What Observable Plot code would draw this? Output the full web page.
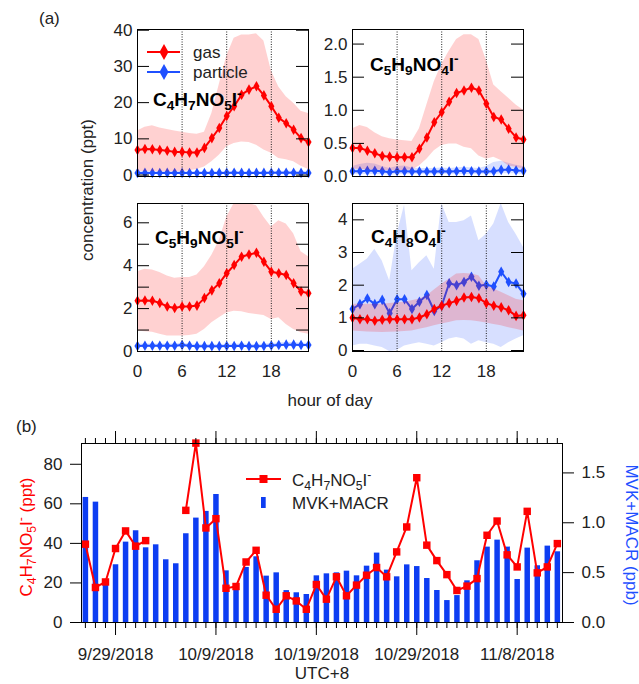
<!DOCTYPE html>
<html><head><meta charset="utf-8">
<script src="https://cdn.jsdelivr.net/npm/d3@7"></script>
<script src="https://cdn.jsdelivr.net/npm/@observablehq/plot@0.6"></script>
<style>
body{margin:0;background:#fff;}
#root{position:relative;width:639px;height:684px;overflow:hidden;font-family:"Liberation Sans",Arial,sans-serif;color:#222;background:#fff;}
#root sub{font-size:72%;vertical-align:baseline;position:relative;top:0.3em;line-height:0;}
#root sup{font-size:72%;vertical-align:baseline;position:relative;top:-0.55em;line-height:0;}
</style></head><body><div id="root"></div>
<script>
// ---------- panel (a) data: diurnal profiles ----------
const hours = [0,1,2,3,4,5,6,7,8,9,10,11,12,13,14,15,16,17,18,19,20,21,22,23];
// C4H7NO5I-
const gas1 = [6.9,7.2,7.1,6.9,6.7,6.4,6.4,6.2,6.2,7.5,10.2,13.0,16.3,19.0,22.2,23.6,24.5,22.0,19.0,15.8,14.3,12.5,10.2,9.1];
const gasHi1 = [12.2,13.2,13.6,13.0,12.6,12.2,11.8,11.5,11.3,11.8,17.0,25.0,32.8,37.8,38.7,38.7,39.0,37.0,28.8,24.3,21.6,19.8,17.6,17.0];
const gasLo1 = [1.0,1.0,1.0,0.9,0.9,0.9,1.0,1.2,1.5,2.2,3.7,5.5,7.8,8.7,9.1,9.0,8.2,6.9,6.0,4.6,4.2,3.7,2.4,1.5];
const part1 = [0.55,0.6,0.6,0.58,0.6,0.55,0.6,0.58,0.55,0.55,0.57,0.6,0.6,0.62,0.6,0.58,0.6,0.6,0.62,0.65,0.65,0.62,0.6,0.6];
const partHi1 = [0.95,1.0,1.0,0.98,1.0,0.95,1.0,0.98,0.95,0.95,0.97,1.0,1.0,1.02,1.0,0.98,1.0,1.0,1.02,1.05,1.05,1.02,1.0,1.0];
const partLo1 = [0.25,0.3,0.3,0.28,0.3,0.25,0.3,0.28,0.25,0.25,0.27,0.3,0.3,0.32,0.3,0.28,0.3,0.3,0.32,0.35,0.35,0.32,0.3,0.3];
// C5H9NO4I-
const gas2 = [0.43,0.43,0.39,0.35,0.31,0.30,0.29,0.29,0.29,0.42,0.59,0.82,0.97,1.13,1.26,1.30,1.34,1.30,1.10,0.90,0.86,0.72,0.59,0.56];
const gasHi2 = [0.72,0.77,0.74,0.66,0.60,0.57,0.55,0.54,0.53,0.72,1.08,1.43,1.69,1.89,2.07,2.14,2.14,2.07,1.76,1.38,1.28,1.18,1.08,1.00];
const gasLo2 = [0.11,0.11,0.10,0.10,0.09,0.09,0.09,0.09,0.10,0.16,0.26,0.39,0.47,0.49,0.49,0.44,0.42,0.31,0.26,0.29,0.24,0.16,0.14,0.11];
const part2 = [0.08,0.08,0.085,0.085,0.08,0.065,0.08,0.08,0.075,0.075,0.075,0.075,0.08,0.075,0.08,0.085,0.08,0.075,0.075,0.08,0.10,0.105,0.09,0.085];
const partHi2 = [0.15,0.18,0.20,0.19,0.15,0.12,0.15,0.16,0.13,0.12,0.12,0.12,0.13,0.12,0.13,0.14,0.13,0.12,0.15,0.21,0.23,0.20,0.17,0.15];
const partLo2 = [0.03,0.03,0.03,0.03,0.03,0.02,0.03,0.03,0.03,0.03,0.03,0.03,0.03,0.03,0.03,0.03,0.03,0.03,0.03,0.03,0.04,0.04,0.04,0.03];
// C5H9NO5I-
const gas3 = [2.37,2.38,2.37,2.26,2.10,2.03,2.10,2.10,2.14,2.49,2.85,3.18,3.65,4.03,4.42,4.52,4.60,4.18,3.72,3.65,3.57,3.18,2.80,2.72];
const gasHi3 = [3.72,3.83,3.80,3.68,3.52,3.42,3.45,3.45,3.57,3.95,4.49,5.18,6.26,6.9,6.9,6.9,6.8,6.26,5.8,6.1,5.95,5.49,4.65,4.42];
const gasLo3 = [0.95,0.92,0.90,0.80,0.72,0.72,0.72,0.75,0.80,1.03,1.34,1.57,1.80,1.88,1.85,1.77,1.72,1.68,1.49,1.57,1.26,1.03,0.88,0.80];
const part3 = [0.26,0.27,0.27,0.27,0.27,0.27,0.30,0.27,0.25,0.25,0.25,0.25,0.26,0.26,0.27,0.25,0.25,0.26,0.28,0.30,0.32,0.32,0.30,0.30];
const partHi3 = [0.34,0.35,0.35,0.35,0.35,0.35,0.39,0.35,0.33,0.33,0.33,0.33,0.34,0.34,0.35,0.33,0.33,0.34,0.37,0.40,0.42,0.42,0.39,0.38];
const partLo3 = [0.19,0.20,0.20,0.20,0.20,0.20,0.22,0.20,0.18,0.18,0.18,0.18,0.19,0.19,0.20,0.18,0.18,0.19,0.20,0.22,0.23,0.23,0.22,0.22];
// C4H8O4I-
const gas4 = [1.00,0.96,0.96,0.91,0.94,0.96,0.96,0.96,0.96,1.01,1.11,1.27,1.37,1.45,1.52,1.62,1.64,1.60,1.45,1.37,1.32,1.23,1.06,1.08];
const gasHi4 = [1.42,1.42,1.42,1.42,1.42,1.44,1.46,1.48,1.52,1.58,1.67,1.85,2.03,2.18,2.34,2.36,2.34,2.29,1.98,1.88,1.78,1.68,1.57,1.52];
const gasLo4 = [0.60,0.58,0.57,0.56,0.55,0.56,0.57,0.58,0.60,0.65,0.70,0.76,0.81,0.86,0.91,0.92,0.91,0.88,0.84,0.80,0.76,0.70,0.65,0.60];
const part4 = [1.27,1.42,1.59,1.42,1.55,1.14,1.57,1.57,1.27,1.49,1.70,1.21,1.37,2.06,2.00,2.10,2.26,1.98,2.01,1.96,2.41,2.10,2.05,1.74];
const partHi4 = [2.49,2.64,2.80,3.10,2.74,2.13,3.56,4.45,2.44,2.69,2.90,2.49,4.5,3.92,3.92,3.97,4.12,3.36,3.56,3.87,4.5,3.92,3.56,3.15];
const partLo4 = [0.14,0.19,0.19,0.14,0.09,-0.03,0.0,0.14,0.19,0.24,0.19,0.14,0.24,0.35,0.40,0.35,0.19,0.30,0.24,0.19,0.09,0.24,0.35,0.45];

// ---------- panel (b) data: daily means ----------
const bDates = ["2018-09-26","2018-09-27","2018-09-28","2018-09-29","2018-09-30",
 "2018-10-01","2018-10-02","2018-10-03","2018-10-04","2018-10-05","2018-10-06","2018-10-07","2018-10-08","2018-10-09","2018-10-10",
 "2018-10-11","2018-10-12","2018-10-13","2018-10-14","2018-10-15","2018-10-16","2018-10-17","2018-10-18","2018-10-19","2018-10-20",
 "2018-10-21","2018-10-22","2018-10-23","2018-10-24","2018-10-25","2018-10-26","2018-10-27","2018-10-28","2018-10-29","2018-10-30","2018-10-31",
 "2018-11-01","2018-11-02","2018-11-03","2018-11-04","2018-11-05","2018-11-06","2018-11-07","2018-11-08","2018-11-09","2018-11-10","2018-11-11","2018-11-12"];
const mvkMacr = [1.254,1.207,0.39,0.579,0.806,0.92,0.749,0.779,0.629,0.589,0.89,1.047,1.114,1.284,0.518,0.33,0.552,0.659,0.465,0.498,0.32,0.298,0.281,0.468,0.488,0.498,0.515,0.468,0.565,0.696,0.525,0.458,0.578,0.561,0.441,0.321,0.22,0.27,0.418,0.619,0.756,0.826,0.756,0.431,0.746,0.569,0.766,0.709];
const c4h7 = [39.6,17.7,20.5,37.4,46.3,38.6,41.4,null,null,null,56.7,90.7,47.8,52.5,17.3,18.2,30.6,36.5,13.8,6.7,13.5,10.9,6.7,19.2,11.8,23.1,13.5,18.9,23.9,27.8,23.1,35.7,48.3,73.2,39.1,31.3,24.2,16.2,18.4,22.2,44.1,51.3,34.2,28.1,56.2,25.1,28.1,39.9];
const majorDates = ["2018-09-29","2018-10-09","2018-10-19","2018-10-29","2018-11-08"];
const leftTicksB = [0,20,40,60,80];
const rightTicksB = [0,0.5,1.0,1.5];
const hourTicks = [0,6,12,18];

const RED = "#ff0000", BLUE = "#1f50ff", BAR = "#0d3df2";
const root = document.getElementById("root");
const baseStyle = {background:"none", overflow:"visible", fontFamily:'"Liberation Sans", Arial, sans-serif', fontSize:"17px", color:"#222"};

function place(el, x, y){ el.style.position="absolute"; el.style.left=x+"px"; el.style.top=y+"px"; root.appendChild(el); }
function label(html, x, y, {anchor="start", rotate=0, size=17, color="#222", weight="normal"}={}){
  const d=document.createElement("div");
  d.innerHTML=html;
  d.style.cssText=`position:absolute;left:${x}px;top:${y}px;font-size:${size}px;color:${color};font-weight:${weight};white-space:nowrap;line-height:1;transform:translate(${anchor==="middle"?"-50%":"0"},-50%) rotate(${rotate}deg);`;
  root.appendChild(d);
}

// ---------- panel (a) subplots ----------
function subplot({left, top, w, h, yDomain, yTicks, yFmt, gas, gHi, gLo, part, pHi, pLo, xLabels}){
  const mL=50, mR=4, mT=4, mB = xLabels ? 36 : 4;
  const rows = hours.map((hr,i)=>({hr, gas:gas[i], gHi:gHi[i], gLo:gLo[i], part:part[i], pHi:pHi[i], pLo:pLo[i]}));
  const svg = Plot.plot({
    width:w+mL+mR, height:h+mT+mB, marginLeft:mL, marginRight:mR, marginTop:mT, marginBottom:mB,
    style: baseStyle,
    x:{domain:[0,23], label:null, ...(xLabels?{}:{axis:null})},
    y:{domain:yDomain, label:null},
    marks:[
      Plot.areaY(rows,{x:"hr", y1:"pLo", y2:"pHi", fill:BLUE, fillOpacity:0.18}),
      Plot.line(rows,{x:"hr", y:"part", stroke:BLUE, strokeWidth:2}),
      Plot.dot(rows,{x:"hr", y:"part", symbol:"diamond", r:3.2, fill:BLUE}),
      Plot.areaY(rows,{x:"hr", y1:"gLo", y2:"gHi", fill:RED, fillOpacity:0.18}),
      Plot.ruleX([6,12,18],{stroke:"#222", strokeDasharray:"1,1.5"}),
      Plot.line(rows,{x:"hr", y:"gas", stroke:RED, strokeWidth:2}),
      Plot.dot(rows,{x:"hr", y:"gas", symbol:"diamond", r:3.2, fill:RED}),
      Plot.ruleY(yTicks,{insetRight:w-12, stroke:"#000"}),
      Plot.ruleY(yTicks,{insetLeft:w-12, stroke:"#000"}),
      Plot.axisY({anchor:"left", ticks:yTicks.filter(d=>yFmt(d)!==""), tickSize:0, tickPadding:5, tickFormat:yFmt}),
      xLabels ? Plot.axisX({anchor:"bottom", ticks:hourTicks, tickSize:0, tickPadding:13}) : null,
      Plot.frame({stroke:"#000"})
    ]
  });
  place(svg, left-mL, top-mT);
}
const W=171;
subplot({left:137, top:29, w:W, h:147, yDomain:[-0.4,40.2], yTicks:[0,10,20,30,40], yFmt:d=>String(d),
  gas:gas1, gHi:gasHi1, gLo:gasLo1, part:part1, pHi:partHi1, pLo:partLo1, xLabels:false});
subplot({left:352, top:29, w:W, h:147, yDomain:[0,2.22], yTicks:[0,0.5,1,1.5,2], yFmt:d=>d.toFixed(1),
  gas:gas2, gHi:gasHi2, gLo:gasLo2, part:part2, pHi:partHi2, pLo:partLo2, xLabels:false});
subplot({left:137, top:203, w:W, h:148, yDomain:[0,6.9], yTicks:[0,1,2,3,4,5,6], yFmt:d=>d%2===0?String(d):"",
  gas:gas3, gHi:gasHi3, gLo:gasLo3, part:part3, pHi:partHi3, pLo:partLo3, xLabels:true});
subplot({left:352, top:203, w:W, h:148, yDomain:[-0.03,4.5], yTicks:[0,1,2,3,4], yFmt:d=>String(d),
  gas:gas4, gHi:gasHi4, gLo:gasLo4, part:part4, pHi:partHi4, pLo:partLo4, xLabels:true});

// ---------- panel (b) ----------
const bRows = bDates.map((d,i)=>({date:new Date(d), mvk:mvkMacr[i], c4:c4h7[i]}));
const xDom = [new Date("2018-09-25T14:40:00Z"), new Date("2018-11-12T12:20:00Z")];
const dayTicks = d3.utcDay.range(d3.utcDay.ceil(xDom[0]), xDom[1]);
const majors = majorDates.map(d=>new Date(d));
const fmtDate = d=>`${d.getUTCMonth()+1}/${d.getUTCDate()}/${d.getUTCFullYear()}`;
const bBox = {width:639, height:264, marginLeft:81, marginRight:77, marginTop:23, marginBottom:62, style:baseStyle};

const bars = Plot.plot({...bBox,
  x:{type:"utc", domain:xDom, axis:null, label:null},
  y:{domain:[0,1.795], label:null},
  marks:[
    Plot.ruleX(bRows,{x:"date", y1:0, y2:"mvk", stroke:BAR, strokeWidth:5.5}),
    Plot.axisY({anchor:"right", ticks:rightTicksB, tickFormat:d=>d.toFixed(1), tickSize:11, tickPadding:8, stroke:"#000"})
  ]});
place(bars, 0, 420);

const lines = Plot.plot({...bBox,
  x:{type:"utc", domain:xDom, label:null},
  y:{domain:[0,90.5], label:null},
  marks:[
    Plot.line(bRows,{x:"date", y:"c4", stroke:RED, strokeWidth:2}),
    Plot.dot(bRows,{x:"date", y:"c4", symbol:"square", r:4.2, fill:RED}),
    Plot.axisY({anchor:"left", ticks:leftTicksB, tickSize:11, tickPadding:8, stroke:"#000"}),
    Plot.axisX({anchor:"bottom", ticks:dayTicks, tickSize:6, fill:"none", stroke:"#000"}),
    Plot.axisX({anchor:"bottom", ticks:majors, tickSize:13, tickPadding:12, tickFormat:fmtDate, stroke:"#000"}),
    Plot.axisX({anchor:"top", ticks:dayTicks, tickSize:6, fill:"none", stroke:"#000"}),
    Plot.axisX({anchor:"top", ticks:majors, tickSize:13, fill:"none", stroke:"#000"}),
    Plot.frame({stroke:"#000"})
  ]});
place(lines, 0, 420);

// ---------- legends (swatches) ----------
const ns="http://www.w3.org/2000/svg";
const lg=document.createElementNS(ns,"svg");
lg.setAttribute("width",639); lg.setAttribute("height",684);
lg.style.cssText="position:absolute;left:0;top:0;pointer-events:none;";
lg.innerHTML = `
<line x1="147" y1="52" x2="180" y2="52" stroke="${RED}" stroke-width="2"/>
<path d="M164,44 L168.5,52 L164,60 L159.5,52 Z" fill="${RED}"/>
<line x1="147" y1="72" x2="180" y2="72" stroke="${BLUE}" stroke-width="2"/>
<path d="M164,64 L168.5,72 L164,80 L159.5,72 Z" fill="${BLUE}"/>
<line x1="246" y1="479" x2="281" y2="479" stroke="${RED}" stroke-width="2"/>
<rect x="259.5" y="475" width="8" height="8" fill="${RED}"/>
<rect x="261" y="497" width="4.7" height="11" fill="${BAR}"/>`;
root.appendChild(lg);

// ---------- texts ----------
label("(a)", 39, 18);
label("(b)", 16, 426);
label("concentration (ppt)", 87, 190, {anchor:"middle", rotate:-90});
label("hour of day", 330, 400, {anchor:"middle"});
label("UTC+8", 322, 673, {anchor:"middle"});
label("gas", 193, 52);
label("particle", 193, 72);
label("C<sub>4</sub>H<sub>7</sub>NO<sub>5</sub>I<sup>-</sup>", 153, 99, {size:19, weight:"bold", color:"#000"});
label("C<sub>5</sub>H<sub>9</sub>NO<sub>4</sub>I<sup>-</sup>", 370, 64, {size:19, weight:"bold", color:"#000"});
label("C<sub>5</sub>H<sub>9</sub>NO<sub>5</sub>I<sup>-</sup>", 155, 237, {size:19, weight:"bold", color:"#000"});
label("C<sub>4</sub>H<sub>8</sub>O<sub>4</sub>I<sup>-</sup>", 371, 236, {size:19, weight:"bold", color:"#000"});
label("C<sub>4</sub>H<sub>7</sub>NO<sub>5</sub>I<sup>-</sup>", 292, 480);
label("MVK+MACR", 292, 503);
label("C<sub>4</sub>H<sub>7</sub>NO<sub>5</sub>I<sup>-</sup> (ppt)", 26, 537, {anchor:"middle", rotate:-90, color:RED});
label("MVK+MACR (ppb)", 631, 535, {anchor:"middle", rotate:90, color:"#1f4fff"});
</script></body></html>
